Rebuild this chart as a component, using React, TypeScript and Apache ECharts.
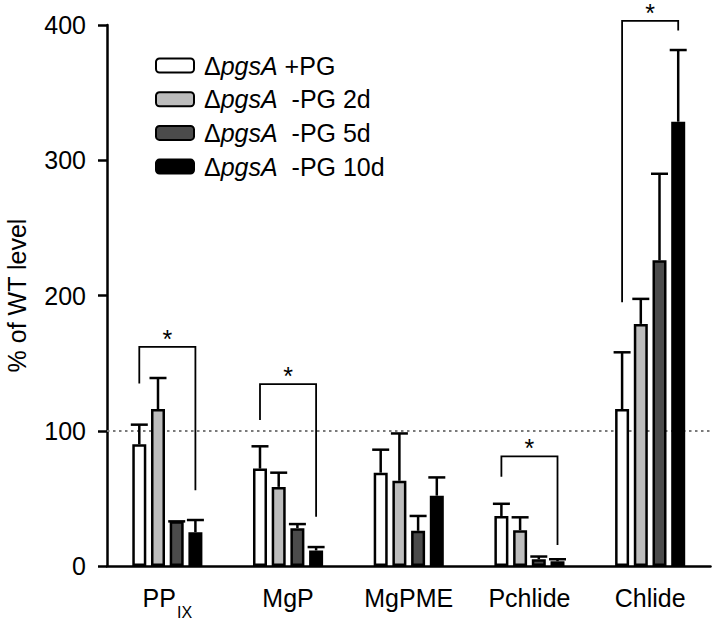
import React, { useEffect, useRef } from 'react';
import * as echarts from 'echarts';

const categories = ['PPIX', 'MgP', 'MgPME', 'Pchlide', 'Chlide'];
const seriesNames = ['ΔpgsA +PG', 'ΔpgsA  -PG 2d', 'ΔpgsA  -PG 5d', 'ΔpgsA  -PG 10d'];
const plusPG = [90, 72, 69, 37, 116];
const plusPGErr = [14.5, 16.5, 17, 9, 42];
const minusPG2d = [116, 58.5, 63, 26.5, 179];
const minusPG2dErr = [23, 10.5, 35, 9.5, 18.5];
const minusPG5d = [33, 28, 26, 5, 226];
const minusPG5dErr = [0, 3, 11, 2, 64];
const minusPG10d = [25, 11.5, 52, 3.5, 328.5];
const minusPG10dErr = [9, 2.5, 13.5, 1.5, 53];
const wtLevel = 100;
// significance brackets (* p<0.05): category, left-leg bottom, top, right-leg bottom
const bracketCategory = [0, 1, 3, 4];
const bracketLeft = [135, 108, 66, 195];
const bracketTop = [162, 134.5, 81, 403];
const bracketRight = [56, 36.5, 15.5, 396];

const seriesValues = [plusPG, minusPG2d, minusPG5d, minusPG10d];
const seriesErrs = [plusPGErr, minusPG2dErr, minusPG5dErr, minusPG10dErr];
const fills = ['#ffffff', '#bdbdbd', '#4b4b4b', '#000000'];

const FONT = '"Liberation Sans", Arial, Helvetica, sans-serif';
const BAR_WIDTH = 14;
const BAR_GAP = 0.336;
const PITCH = BAR_WIDTH * (1 + BAR_GAP);

export default function App() {
  const ref = useRef<HTMLDivElement>(null);
  useEffect(() => {
    if (!ref.current) return;
    const chart = echarts.init(ref.current, null, { renderer: 'svg' });

    const errData: number[][] = [];
    seriesValues.forEach((vals, s) => {
      vals.forEach((v, c) => errData.push([c, v, seriesErrs[s][c], s]));
    });
    const bracketData = bracketCategory.map((c, i) => [c, bracketLeft[i], bracketTop[i], bracketRight[i]]);

    const barSeries = seriesNames.map((name, s) => ({
      name,
      type: 'bar',
      data: seriesValues[s],
      barWidth: BAR_WIDTH,
      barGap: BAR_GAP * 100 + '%',
      itemStyle: { color: fills[s], borderColor: '#000', borderWidth: 2.5 },
      z: 2,
      ...(s === 0
        ? {
            markLine: {
              silent: true,
              symbol: 'none',
              label: { show: false },
              lineStyle: { color: '#7a7a7a', type: [2.5, 3.5], width: 2.2 },
              data: [{ yAxis: wtLevel }],
              z: 1,
            },
          }
        : {}),
    }));

    chart.setOption({
      animation: false,
      grid: { left: 107, right: 2.5, top: 25, bottom: 54, containLabel: false, outerBoundsMode: 'none' },
      legend: {
        orient: 'vertical',
        left: 150,
        top: 48,
        itemWidth: 38,
        itemHeight: 14,
        itemGap: 8.7,
        selectedMode: false,
        data: seriesNames,
        formatter: (name: string) => `{d|Δ}{i|pgsA}{n|${name.replace('ΔpgsA', '')}}`,
        textStyle: {
          fontFamily: FONT,
          fontSize: 25,
          lineHeight: 25,
          color: '#000',
          rich: {
            d: { fontFamily: FONT, fontSize: 25, color: '#000', padding: [0, 0, 0, 5] },
            i: { fontFamily: FONT, fontSize: 25, color: '#000', fontStyle: 'italic' },
            n: { fontFamily: FONT, fontSize: 25, color: '#000' },
          },
        },
      },
      xAxis: {
        type: 'category',
        data: categories,
        axisLine: { lineStyle: { color: '#000', width: 2.5 } },
        axisTick: { alignWithLabel: true, length: 9, lineStyle: { color: '#000', width: 2.5 } },
        axisLabel: {
          interval: 0,
          margin: 19,
          fontFamily: FONT,
          fontSize: 25,
          lineHeight: 25,
          color: '#000',
          formatter: (v: string) => (v === 'PPIX' ? '{m|PP}{s|IX}' : `{m|${v}}`),
          rich: {
            m: { fontFamily: FONT, fontSize: 25, lineHeight: 25, color: '#000', verticalAlign: 'top' },
            s: { fontFamily: FONT, fontSize: 16, lineHeight: 16, color: '#000', verticalAlign: 'top', padding: [19, 0, 0, 1] },
          },
        },
        splitLine: { show: false },
      },
      yAxis: {
        type: 'value',
        min: 0,
        max: 400,
        interval: 100,
        name: '% of WT level',
        nameLocation: 'middle',
        nameGap: 78,
        nameRotate: 90,
        nameTextStyle: { fontFamily: FONT, fontSize: 25, color: '#000' },
        axisLine: { show: true, lineStyle: { color: '#000', width: 2.5 } },
        axisTick: { show: true, length: 9, lineStyle: { color: '#000', width: 2.5 } },
        axisLabel: { margin: 21, fontFamily: FONT, fontSize: 25, color: '#000' },
        splitLine: { show: false },
      },
      series: [
        ...barSeries,
        {
          type: 'custom',
          name: 'err',
          data: errData,
          encode: { x: 0, y: 1 },
          z: 3,
          silent: true,
          renderItem: (params: any, api: any) => {
            const c = api.value(0);
            const v = api.value(1);
            const e = api.value(2);
            const s = api.value(3);
            const base = api.coord([c, v]);
            const top = api.coord([c, v + e]);
            const x = base[0] + (s - 1.5) * PITCH;
            return {
              type: 'group',
              children: [
                { type: 'line', shape: { x1: x, y1: base[1], x2: x, y2: top[1] }, style: { stroke: '#000', lineWidth: 2.5 } },
                { type: 'line', shape: { x1: x - 8.5, y1: top[1], x2: x + 8.5, y2: top[1] }, style: { stroke: '#000', lineWidth: 2.5 } },
              ],
            };
          },
        },
        {
          type: 'custom',
          name: 'sig',
          data: bracketData,
          encode: { x: 0, y: 2 },
          z: 3,
          silent: true,
          clip: false,
          renderItem: (params: any, api: any) => {
            const c = api.value(0);
            const center = api.coord([c, 0])[0];
            const xl = center - 1.5 * PITCH;
            const xr = center + 1.5 * PITCH;
            const yl = api.coord([c, api.value(1)])[1];
            const yt = api.coord([c, api.value(2)])[1];
            const yr = api.coord([c, api.value(3)])[1];
            return {
              type: 'group',
              children: [
                {
                  type: 'polyline',
                  shape: { points: [[xl, yl], [xl, yt], [xr, yt], [xr, yr]] },
                  style: { stroke: '#000', lineWidth: 1.8, fill: 'none' },
                },
                {
                  type: 'text',
                  x: (xl + xr) / 2,
                  y: yt - 8,
                  style: { text: '*', fontFamily: FONT, fontSize: 25, fill: '#000', align: 'center', verticalAlign: 'middle' },
                },
              ],
            };
          },
        },
      ],
    });
    return () => chart.dispose();
  }, []);
  return <div ref={ref} style={{ position: 'fixed', left: 0, top: 0, width: 713, height: 620, background: '#fff' }} />;
}
